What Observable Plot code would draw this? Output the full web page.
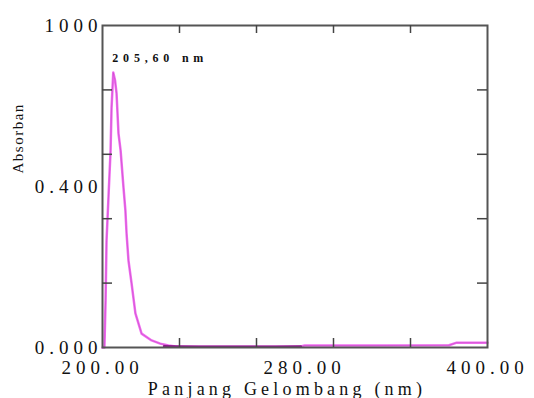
<!DOCTYPE html>
<html>
<head>
<meta charset="utf-8">
<script src="https://cdn.jsdelivr.net/npm/d3@7"></script>
<script src="https://cdn.jsdelivr.net/npm/@observablehq/plot@0.6"></script>
<style>
  html, body { margin: 0; padding: 0; background: #fff; }
  #chart svg { font-family: "Liberation Serif", "DejaVu Serif", serif; }
  g[aria-label="x-axis tick label"] text { letter-spacing: 5px; }
  g[aria-label="y-axis tick label"] text { letter-spacing: 5px; }
</style>
</head>
<body>
<div id="chart"></div>
<script>
// Spectrum (wavelength nm, absorbance)
const wavelength = [200.0, 201.0, 201.6, 202.1, 203.2, 204.2, 204.7, 205.6, 206.5, 207.3, 208.3, 209.4, 210.9, 211.9, 212.5, 213.5, 215.1, 217.1, 220.3, 225.5, 230.0, 234.3, 238.0, 250.0, 270.0, 290.0, 303.0, 305.0, 340.0, 380.0, 384.0, 400.0];
const absorbance = [0.000, 0.000, 0.146, 0.332, 0.480, 0.612, 0.745, 0.854, 0.830, 0.789, 0.665, 0.612, 0.497, 0.425, 0.354, 0.270, 0.199, 0.106, 0.043, 0.022, 0.012, 0.006, 0.003, 0.002, 0.002, 0.002, 0.003, 0.006, 0.006, 0.007, 0.015, 0.015];
// darker baseline portion
const baseWavelength = [232.0, 238.0, 250.0, 270.0, 290.0, 303.0];
const baseAbsorbance = [0.004, 0.003, 0.002, 0.002, 0.002, 0.003];

const xTickLabelPos = [200, 305, 400];
const xTickLabels = ["200.00", "280.00", "400.00"];
const yTickLabelPos = [0, 0.5, 1.0];
const yTickLabels = ["0.000", "0.400", "1000"];
const xInnerTicks = [240, 280, 320, 360];
const yInnerTicks = [0.2, 0.4, 0.6, 0.8];

const peakLabel = "205,60 nm";
const peakLabelPos = {x: 205.6, y: 0.90};
const xTitle = "Panjang Gelombang (nm)";
const yTitle = "Absorban";

const spectrum = wavelength.map((w, i) => ({w, a: absorbance[i]}));
const baseline = baseWavelength.map((w, i) => ({w, a: baseAbsorbance[i]}));

const chart = Plot.plot({
  width: 534,
  height: 398,
  marginLeft: 102,
  marginRight: 47,
  marginTop: 25,
  marginBottom: 51,
  x: {domain: [200, 400]},
  y: {domain: [0, 1]},
  marks: [
    Plot.line(spectrum, {x: "w", y: "a", stroke: "#f070f0", strokeWidth: 2.5}),
    Plot.line(spectrum, {x: "w", y: "a", stroke: "#c040c0", strokeWidth: 1, strokeOpacity: 0.5}),
    Plot.line(baseline, {x: "w", y: "a", stroke: "#8a1a8a", strokeWidth: 2.5}),
    Plot.frame({stroke: "#555", strokeWidth: 2}),
    Plot.tickX(xInnerTicks, {x: d => d, insetTop: 313, stroke: "#444", strokeWidth: 1.5}),
    Plot.tickX(xInnerTicks, {x: d => d, insetBottom: 314, stroke: "#444", strokeWidth: 1.5}),
    Plot.tickY(yInnerTicks, {y: d => d, insetRight: 375, stroke: "#444", strokeWidth: 1.5}),
    Plot.tickY(yInnerTicks, {y: d => d, insetLeft: 375, stroke: "#444", strokeWidth: 1.5}),
    Plot.axisX(xTickLabelPos, {
      tickSize: 0, tickPadding: 13, fontSize: 19, fill: "#111",
      tickFormat: (d, i) => xTickLabels[i], label: null
    }),
    Plot.axisY(yTickLabelPos, {
      tickSize: 0, tickPadding: 0, fontSize: 19, fill: "#111",
      tickFormat: (d, i) => yTickLabels[i], label: null
    }),
    Plot.text([peakLabel], {
      x: peakLabelPos.x, y: peakLabelPos.y, text: d => d, textAnchor: "start", dx: -1,
      fontSize: 12, fontWeight: "bold", fill: "#111"
    }),
    Plot.text([xTitle], {
      frameAnchor: "bottom", text: d => d, dy: 47, dx: -8, fontSize: 18, fill: "#111"
    }),
    Plot.text([yTitle], {
      frameAnchor: "left", text: d => d, rotate: -90, dx: -84, dy: -13, fontSize: 15, fill: "#111"
    })
  ]
});
const spacing = new Map([[xTitle, "4.2px"], [yTitle, "1.5px"], [peakLabel, "4.8px"]]);
d3.select(chart).selectAll("text").each(function() {
  const s = spacing.get(this.textContent);
  if (s) this.style.letterSpacing = s;
});
document.getElementById("chart").appendChild(chart);
</script>
</body>
</html>
